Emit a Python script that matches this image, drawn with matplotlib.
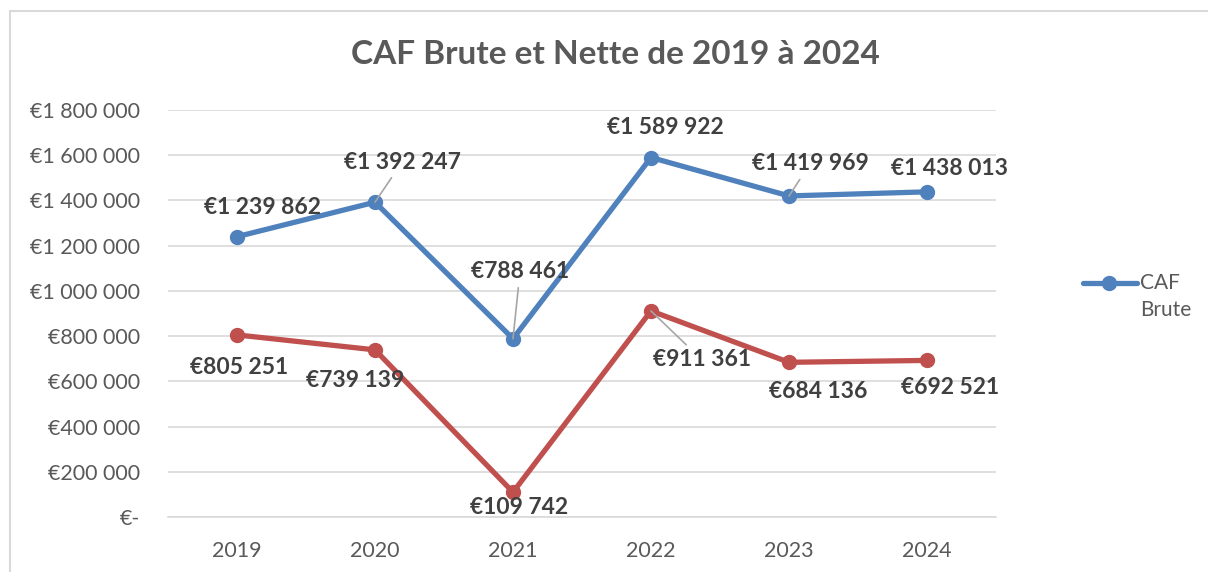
import matplotlib
matplotlib.use("Agg")
import matplotlib.pyplot as plt
from matplotlib.patches import Rectangle
from matplotlib.lines import Line2D

# Data
years = ["2019", "2020", "2021", "2022", "2023", "2024"]
caf_brute = [1239862, 1392247, 788461, 1589922, 1419969, 1438013]
caf_nette = [805251, 739139, 109742, 911361, 684136, 692521]

# label offsets in pixels (dx, dy), and whether a leader line is drawn
brute_offsets = [(26, 29), (27, 40), (7, 67), (14, 30), (21, 32), (23, 23)]
brute_leader = [False, True, True, False, True, False]
nette_offsets = [(2, -33), (-20, -31), (6, -15), (51, -49), (29, -29), (23, -27)]
nette_leader = [False, False, False, True, False, False]

blue = "#4F81BD"
red = "#C0504D"
text_grey = "#595959"
label_grey = "#404040"

plt.rcParams["font.family"] = ["Lato", "DejaVu Sans"]


def fmt_euro(v):
    if v == 0:
        return "€-"
    return "€" + f"{int(v):,}".replace(",", " ")


fig = plt.figure(figsize=(12.08, 5.72), dpi=100)
ax = fig.add_axes([168 / 1208, 55 / 572, 828 / 1208, 407 / 572])

# chart frame
fig.patches.append(Rectangle((10 / 1208, -0.1), 1.2, 1.1 - 11 / 572,
                             transform=fig.transFigure, fill=False,
                             edgecolor="#D9D9D9", linewidth=1.5))

x = list(range(len(years)))
ax.plot(x, caf_brute, color=blue, linewidth=3.8, marker="o", markersize=10,
        solid_capstyle="round", zorder=3)
ax.plot(x, caf_nette, color=red, linewidth=3.8, marker="o", markersize=10,
        solid_capstyle="round", zorder=3)


def add_labels(values, offsets, leaders):
    for i, v in enumerate(values):
        dx, dy = offsets[i]
        kw = {}
        if leaders[i]:
            kw["arrowprops"] = dict(arrowstyle="-", color="#A6A6A6", lw=1.2,
                                    shrinkA=2, shrinkB=0)
        ax.annotate(fmt_euro(v), xy=(i, v), xytext=(dx, dy),
                    textcoords="offset pixels", ha="center", va="center",
                    fontsize=16.5, fontweight="bold", color=label_grey,
                    zorder=4, **kw)


add_labels(caf_brute, brute_offsets, brute_leader)
add_labels(caf_nette, nette_offsets, nette_leader)

ax.set_xlim(-0.5, len(years) - 0.5)
ax.set_ylim(0, 1800000)
ax.set_yticks(range(0, 1800001, 200000))
ax.set_yticklabels([fmt_euro(v) for v in range(0, 1800001, 200000)])
ax.set_xticks(x)
ax.set_xticklabels(years)
ax.tick_params(axis="both", length=0, labelsize=15.5, colors=text_grey)
ax.tick_params(axis="y", pad=20)
ax.tick_params(axis="x", pad=17)
ax.grid(axis="y", color="#D9D9D9", linewidth=1.2)
ax.set_axisbelow(True)
for s in ["top", "right", "left"]:
    ax.spines[s].set_visible(False)
ax.spines["bottom"].set_color("#D9D9D9")
ax.spines["bottom"].set_linewidth(1.2)

fig.text(615 / 1208, 1 - 55 / 572, "CAF Brute et Nette de 2019 à 2024",
         ha="center", va="center", fontsize=24, fontweight="bold",
         color=text_grey)

# legend (only the first series is visible, like the original)
fig.add_artist(Line2D([1083 / 1208, 1137 / 1208], [1 - 283 / 572] * 2,
                      transform=fig.transFigure, color=blue, linewidth=3.8,
                      solid_capstyle="round"))
fig.add_artist(Line2D([1109 / 1208], [1 - 283 / 572],
                      transform=fig.transFigure, color=blue, marker="o",
                      markersize=10))
fig.text(1140 / 1208, 1 - 283 / 572, "CAF", ha="left", va="center",
         fontsize=15, color=text_grey)
fig.text(1140 / 1208, 1 - 310 / 572, "Brute", ha="left", va="center",
         fontsize=15, color=text_grey)

fig.savefig("out.png", dpi=100, facecolor="white")
